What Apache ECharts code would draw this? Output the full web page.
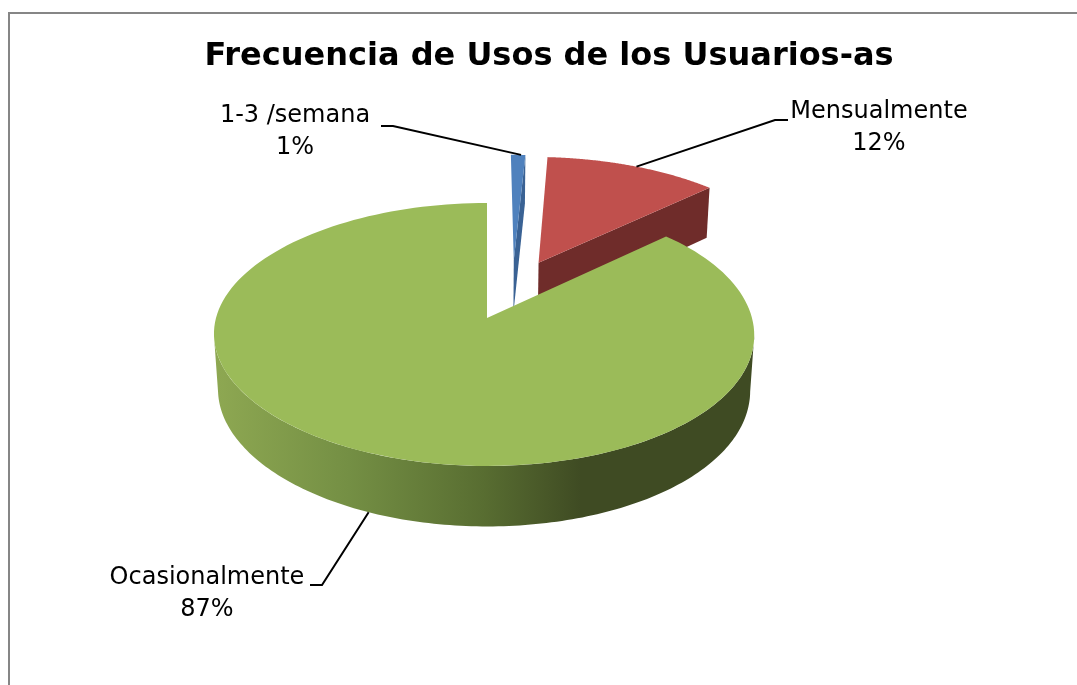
<!DOCTYPE html>
<html>
<head>
<meta charset="utf-8">
<style>
html, body { margin: 0; padding: 0; background: #fff; }
#chart { width: 1077px; height: 685px; }
</style>
<script src="https://cdn.jsdelivr.net/npm/echarts@6/dist/echarts.min.js"></script>
</head>
<body>
<div id="chart"></div>
<script>
const categories = ['1-3 /semana', 'Mensualmente', 'Ocasionalmente']
const values = [1, 12, 87]
const percentLabels = ['1%', '12%', '87%']
const topColors = ['#4f81bd', '#c0504d', '#9bbb59']
const wallColors = ['#3a6294', '#6f2c2a', '#5a6e33']

// fake 3D view of the disc: unit disc coords -> screen px
const view = { x: 487, y: 318, a: 268, b: 129.4, depth: 56, k: 0.1255, m: 0.015 }
const explode = 0.247
const rimScale = [1.025, 1.025, 1]
const rimShift = [0, 0, -3]
const wallStops = [
  { offset: 0, color: '#8ea852' },
  { offset: 0.25, color: '#748f44' },
  { offset: 0.5, color: '#586d31' },
  { offset: 0.68, color: '#3f4b23' },
  { offset: 1, color: '#3f4b23' }
]

function project (px, py, z) {
  const d = 1 + view.k * py + view.m * z
  return [view.x + view.a * px / d, view.y + (-view.b * py + view.depth * z) / d]
}

const total = values.reduce((s, v) => s + v, 0)
let acc = 0
const slices = values.map(v => {
  const start = acc / total * Math.PI * 2
  acc += v
  return { start, end: acc / total * Math.PI * 2 }
})
const greenMid = (slices[2].start + slices[2].end) / 2
// green apex is the origin of the view
const origin = [-explode * Math.sin(greenMid), -explode * Math.cos(greenMid)]

function apexOf (i) {
  const mid = (slices[i].start + slices[i].end) / 2
  return [origin[0] + explode * Math.sin(mid), origin[1] + explode * Math.cos(mid)]
}
function rimPoint (i, t, z) {
  const a = apexOf(i)
  const p = project(a[0] + rimScale[i] * Math.sin(t), a[1] + rimScale[i] * Math.cos(t), z)
  const c = 1 - Math.cos(t) * Math.cos(t)
  p[0] += rimShift[i] * c * c
  return p
}
function arc (i, from, to, z) {
  const pts = []
  const n = 160
  for (let j = 0; j <= n; j++) pts.push(rimPoint(i, from + (to - from) * j / n, z))
  return pts
}

function renderSlice (params, api) {
  const i = api.value(0)
  const s = slices[i]
  const a = apexOf(i)
  const top = [project(a[0], a[1], 0)].concat(arc(i, s.start, s.end, 0))
  const children = []
  if (i === 2) {
    // outer wall, from the rightmost to the leftmost rim point
    const rim = arc(i, s.start, s.end, 0)
    let r = 0, l = 0
    rim.forEach((p, j) => { if (p[0] > rim[r][0]) r = j; if (p[0] < rim[l][0]) l = j })
    const from = s.start + (s.end - s.start) * r / 160
    const to = s.start + (s.end - s.start) * l / 160
    const wall = arc(i, from, to, 0).concat(arc(i, from, to, 1).reverse())
    children.push({
      type: 'polygon',
      shape: { points: wall },
      style: { fill: new echarts.graphic.LinearGradient(0, 0, 1, 0, wallStops) }
    })
  } else {
    // wall of the right hand cut
    const wall = [project(a[0], a[1], 0), rimPoint(i, s.end, 0), rimPoint(i, s.end, 1), project(a[0], a[1], 1)]
    children.push({ type: 'polygon', shape: { points: wall }, style: { fill: wallColors[i] } })
  }
  children.push({ type: 'polygon', shape: { points: top }, style: { fill: topColors[i] } })
  return { type: 'group', children }
}

const chart = echarts.init(document.getElementById('chart'), null, { renderer: 'canvas' })

function rimAt (i, f, z) {
  return rimPoint(i, slices[i].start + (slices[i].end - slices[i].start) * f, z)
}
// label boxes and leader lines: text centre, elbow, touching point on the slice
const labelLayout = [
  { x: 295, y: 132, line: [[381, 126], [393, 126], rimAt(0, 0.7, 0)] },
  { x: 879, y: 128, line: [[788, 120], [775, 120], rimAt(1, 0.52, 0)] },
  { x: 207, y: 594, line: [[310, 585], [322, 585], rimAt(2, 0.5, 1)] }
]

const graphics = [
  { type: 'polyline', shape: { points: [[9, 685], [9, 13], [1077, 13]] }, style: { stroke: '#868686', lineWidth: 2, fill: null }, silent: true }
]
categories.forEach((c, i) => {
  const l = labelLayout[i]
  graphics.push({
    type: 'polyline', z: 10,
    shape: { points: l.line },
    style: { stroke: '#000', lineWidth: 2, fill: null }
  })
  graphics.push({
    type: 'text', z: 10,
    style: { text: c + '\n' + percentLabels[i], x: l.x, y: l.y, align: 'center', verticalAlign: 'middle', font: '24px "DejaVu Sans"', lineHeight: 32, fill: '#000' }
  })
})

chart.setOption({
  animation: false,
  title: {
    text: 'Frecuencia de Usos de los Usuarios-as',
    left: 544, top: 36, textAlign: 'center',
    textStyle: { fontFamily: 'DejaVu Sans', fontWeight: 'bold', fontSize: 32, color: '#000' }
  },
  graphic: graphics,
  series: [{
    type: 'custom',
    coordinateSystem: 'none',
    renderItem: renderSlice,
    data: values.map((v, i) => ({ name: categories[i], value: [i, v] }))
  }]
})
</script>
</body>
</html>
